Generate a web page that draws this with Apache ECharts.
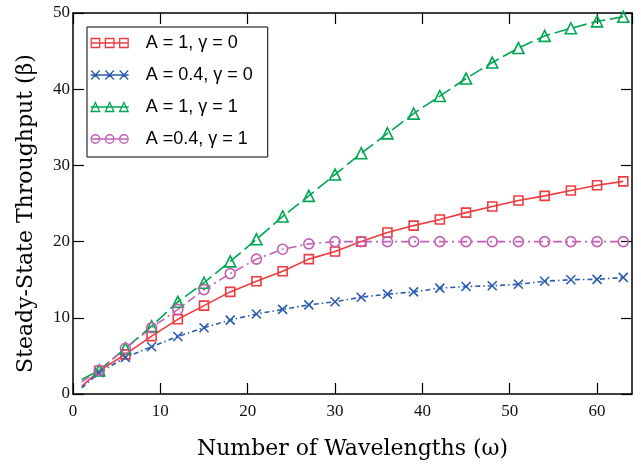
<!DOCTYPE html>
<html lang="en">
<head>
    <meta charset="UTF-8">
    <title>Steady-State Throughput</title>
    <script src="https://cdn.jsdelivr.net/npm/echarts@6/dist/echarts.min.js"></script>
    <style>
        html, body { margin: 0; padding: 0; background: #fff; }
        #main { width: 641px; height: 466px; }
    </style>
</head>
<body>
    <div id="main"></div>
    <script>
        // wavelengths where the markers sit
        var wavelengths = [3, 6, 9, 12, 15, 18, 21, 24, 27, 30, 33, 36, 39, 42, 45, 48, 51, 54, 57, 60, 63];
        // first point of each curve (no marker)
        var startW = 1;
        var startRed = 1.0, startBlue = 0.8, startGreen = 1.9, startPink = 1.6;

        // A = 1, gamma = 0
        var redVals = [3.05, 5.2, 7.6, 9.8, 11.6, 13.4, 14.8, 16.1, 17.7, 18.7, 20.0, 21.2, 22.1, 22.9, 23.8, 24.6, 25.4, 26.0, 26.7, 27.4, 27.9];
        // A = 0.4, gamma = 0
        var blueVals = [2.8, 4.8, 6.2, 7.55, 8.7, 9.7, 10.5, 11.1, 11.7, 12.1, 12.7, 13.1, 13.4, 13.9, 14.1, 14.2, 14.4, 14.8, 15.0, 15.05, 15.3];
        // A = 1, gamma = 1
        var greenVals = [3.1, 6.0, 8.9, 12.1, 14.6, 17.4, 20.3, 23.3, 26.0, 28.8, 31.6, 34.2, 36.8, 39.1, 41.4, 43.5, 45.4, 47.0, 48.0, 48.9, 49.5];
        // A = 0.4, gamma = 1
        var pinkVals = [3.1, 6.0, 8.7, 11.1, 13.7, 15.8, 17.7, 19.0, 19.7, 20.0, 20.0, 20.0, 20.0, 20.0, 20.0, 20.0, 20.0, 20.0, 20.0, 20.0, 20.0];

        var names = ['A = 1, \u03b3 = 0', 'A = 0.4, \u03b3 = 0', 'A = 1, \u03b3 = 1', 'A =0.4, \u03b3 = 1'];
        var colors = ['#ef3b3f', '#2a5cab', '#00a651', '#c261b4'];

        var xTicks = { min: 0, max: 64, interval: 10 };
        var yTicks = { min: 0, max: 50, interval: 10 };

        // marker shapes
        var crossPath = 'path://M0,0L10,10M10,0L0,10';
        var iconSquares = 'path://M0,6L38,6M0.5,1.5h8.5v9h-8.5zM14.75,1.5h8.5v9h-8.5zM29,1.5h8.5v9h-8.5z';
        var iconCrosses = 'path://M0,6L38,6M0.5,1.5L9,10.5M9,1.5L0.5,10.5M14.75,1.5L23.25,10.5M23.25,1.5L14.75,10.5M29,1.5L37.5,10.5M37.5,1.5L29,10.5';
        var iconTriangles = 'path://M0,6L38,6M0.5,10.5L4.75,1.5L9,10.5zM14.75,10.5L19,1.5L23.25,10.5zM29,10.5L33.25,1.5L37.5,10.5z';
        var iconCircles = 'path://M0,6L38,6M9,6A4.25,4.25,0,1,1,0.5,6A4.25,4.25,0,1,1,9,6M23.25,6A4.25,4.25,0,1,1,14.75,6A4.25,4.25,0,1,1,23.25,6M37.5,6A4.25,4.25,0,1,1,29,6A4.25,4.25,0,1,1,37.5,6';

        function buildData(start, vals) {
            var out = [{ value: [startW, start], symbol: 'none' }];
            for (var i = 0; i < wavelengths.length; i++) {
                out.push([wavelengths[i], vals[i]]);
            }
            return out;
        }

        function makeSeries(idx, vals, start, symbol, size, dash) {
            return {
                name: names[idx],
                type: 'line',
                data: buildData(start, vals),
                symbol: symbol,
                symbolSize: size,
                showAllSymbol: true,
                itemStyle: { color: 'rgba(0,0,0,0)', borderColor: colors[idx], borderWidth: 1.6 },
                lineStyle: { color: colors[idx], width: 1.6, type: dash },
                emphasis: { disabled: true },
                z: 3
            };
        }

        var serif = 'Liberation Serif';
        var nameFont = 'DejaVu Serif';

        var chart = echarts.init(document.getElementById('main'));
        var option = {
            animation: false,
            backgroundColor: '#fff',
            grid: { left: 73, right: 9, top: 13, bottom: 72, outerBoundsMode: 'none' },
            legend: {
                orient: 'vertical',
                left: 87,
                top: 27,
                padding: [6, 15, 8, 3],
                itemGap: 12,
                itemWidth: 38,
                itemHeight: 11,
                backgroundColor: '#fff',
                borderColor: '#000',
                borderWidth: 1,
                selectedMode: false,
                textStyle: { fontFamily: 'Liberation Sans', fontSize: 18, color: '#000', lineHeight: 20, padding: [0, 0, 0, 12] },
                data: [
                    { name: names[0], icon: iconSquares, itemStyle: { color: 'rgba(0,0,0,0)', borderColor: colors[0], borderWidth: 1.3 } },
                    { name: names[1], icon: iconCrosses, itemStyle: { color: 'rgba(0,0,0,0)', borderColor: colors[1], borderWidth: 1.3 } },
                    { name: names[2], icon: iconTriangles, itemStyle: { color: 'rgba(0,0,0,0)', borderColor: colors[2], borderWidth: 1.3 } },
                    { name: names[3], icon: iconCircles, itemStyle: { color: 'rgba(0,0,0,0)', borderColor: colors[3], borderWidth: 1.3 } }
                ]
            },
            xAxis: [{
                type: 'value',
                position: 'bottom',
                min: xTicks.min, max: xTicks.max, interval: xTicks.interval,
                name: 'Number of Wavelengths (\u03c9)',
                nameLocation: 'middle',
                nameGap: 44,
                nameTextStyle: { fontFamily: nameFont, fontSize: 22, color: '#000' },
                axisLine: { onZero: false, lineStyle: { color: '#000', width: 1.5 } },
                axisTick: { inside: true, length: 11, lineStyle: { color: '#000', width: 1.2 } },
                axisLabel: { showMaxLabel: false, margin: 9, fontFamily: serif, fontSize: 17, color: '#111' },
                splitLine: { show: false }
            }, {
                type: 'value',
                position: 'top',
                min: xTicks.min, max: xTicks.max, interval: xTicks.interval,
                axisLine: { onZero: false, lineStyle: { color: '#000', width: 1.5 } },
                axisTick: { inside: true, length: 11, lineStyle: { color: '#000', width: 1.2 } },
                axisLabel: { show: false },
                splitLine: { show: false }
            }],
            yAxis: [{
                type: 'value',
                position: 'left',
                min: yTicks.min, max: yTicks.max, interval: yTicks.interval,
                name: 'Steady-State Throughput (\u03b2)',
                nameLocation: 'middle',
                nameGap: 36,
                nameTextStyle: { fontFamily: nameFont, fontSize: 22, color: '#000', padding: [0, 20, 0, 0] },
                axisLine: { onZero: false, lineStyle: { color: '#000', width: 1.5 } },
                axisTick: { inside: true, length: 11, lineStyle: { color: '#000', width: 1.2 } },
                axisLabel: { margin: 3, fontFamily: serif, fontSize: 17, color: '#111', padding: [6, 0, 0, 0] },
                splitLine: { show: false }
            }, {
                type: 'value',
                position: 'right',
                min: yTicks.min, max: yTicks.max, interval: yTicks.interval,
                axisLine: { onZero: false, lineStyle: { color: '#000', width: 1.5 } },
                axisTick: { inside: true, length: 11, lineStyle: { color: '#000', width: 1.2 } },
                axisLabel: { show: false },
                splitLine: { show: false }
            }],
            series: [
                makeSeries(0, redVals, startRed, 'rect', 9, 'solid'),
                makeSeries(1, blueVals, startBlue, crossPath, 9, [5, 3, 1.5, 3]),
                makeSeries(2, greenVals, startGreen, 'triangle', 11, [14, 5]),
                makeSeries(3, pinkVals, startPink, 'circle', 10, [9, 4, 2, 4])
            ]
        };
        chart.setOption(option);
    </script>
</body>
</html>
